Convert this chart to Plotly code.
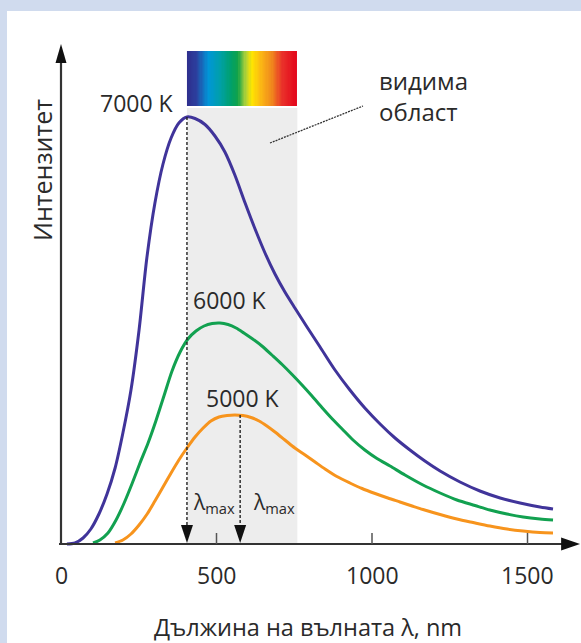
import plotly.graph_objects as go

# ---------------- data ----------------
wl_7000 = [19, 45, 71, 96, 122, 148, 174, 199, 225, 251, 276, 302, 328, 354, 379, 405,
           431, 463, 495, 527, 559, 592, 624, 656, 688, 720, 752, 791, 833, 881, 929,
           977, 1026, 1074, 1122, 1170, 1219, 1283, 1347, 1412, 1476, 1540, 1582]
int_7000 = [0, 1, 6, 15, 30, 50, 76, 111, 154, 214, 286, 341, 380, 406, 421, 427,
            425.5, 419.5, 408, 392, 369, 341, 315, 291, 270, 252, 236, 217, 197, 174, 154,
            136, 120, 106, 94, 83, 73, 62, 53, 46, 41, 37, 35]

wl_6000 = [103, 125, 151, 177, 203, 228, 254, 280, 305, 331, 357, 383, 408, 434, 460,
           486, 511, 537, 563, 588, 614, 646, 678, 711, 743, 775, 807, 839, 871, 904,
           939, 977, 1016, 1058, 1106, 1164, 1219, 1273, 1331, 1379, 1434, 1486, 1540, 1582]
int_6000 = [1, 4, 11, 24, 41, 60, 81, 101, 123, 148, 173, 192, 205, 213, 218,
            220.5, 221, 219.5, 216, 211, 205.5, 198, 189, 179.5, 169.5, 159, 148, 136.5, 125.5, 115,
            104, 94, 85.5, 78, 69, 59, 51, 44, 38.5, 34, 30, 27, 25, 24]

wl_5000 = [174, 199, 225, 251, 277, 302, 328, 354, 379, 405, 431, 457, 482, 508, 534,
           559, 585, 611, 637, 662, 688, 720, 752, 785, 817, 849, 887, 929, 968, 1010,
           1051, 1090, 1129, 1164, 1219, 1273, 1325, 1379, 1434, 1486, 1540, 1582]
int_5000 = [1, 4, 10, 19, 30, 43, 57, 71, 84, 96, 107, 116, 123, 127, 128.5,
            129, 128.5, 126.5, 123, 118, 112, 104, 96, 89, 82, 75, 67.5, 61, 55.5, 50.5,
            46, 42, 38, 34.5, 29.5, 25, 21.5, 18, 15, 13, 11.5, 11]

curve_labels = ["7000 K", "6000 K", "5000 K"]
curve_colors = ["#40349a", "#12a150", "#f7941d"]

lambda_max = [405, 576]          # nm, marked with dashed arrows
lambda_max_peak = [427, 129]     # intensity at those peaks

visible_range = [405, 760]       # nm, visible region
x_tick_vals = [0, 500, 1000, 1500]
x_tick_text = ["0", "500", "1000", "1500"]

x_title = "Дължина на вълната λ, nm"
y_title = "Интензитет"
visible_label = "видима<br>област"

# ---------------- layout geometry ----------------
PX = 3.2154                      # nm per pixel
XR = [-67.52, 1672.0]
YR = [-16, 514]
FONT = "Open Sans"
TXT = "#2a2a2a"

fig = go.Figure()

# spectrum strip (colour gradient across the visible range)
ncol = 90
step = (visible_range[1] - visible_range[0]) / ncol
spectrum = [
    [0.00, "#2e2f8e"], [0.08, "#2c3f9e"], [0.19, "#0096d8"], [0.30, "#00a0a8"],
    [0.40, "#00a06a"], [0.46, "#10a24a"], [0.53, "#a8cf3a"], [0.59, "#ffe600"],
    [0.68, "#fbb415"], [0.77, "#f08a1c"], [0.87, "#e9312a"], [1.00, "#e3061b"]]
fig.add_trace(go.Heatmap(
    z=[[i for i in range(ncol)]], x0=visible_range[0] + step / 2, dx=step,
    y0=465.5, dy=55, colorscale=spectrum, showscale=False, hoverinfo="skip"))

series = [(wl_7000, int_7000), (wl_6000, int_6000), (wl_5000, int_5000)]
for (wx, wy), name, col in zip(series, curve_labels, curve_colors):
    fig.add_trace(go.Scatter(x=wx, y=wy, mode="lines", name=name,
                             line=dict(color=col, width=3, shape="spline", smoothing=0.8),
                             hoverinfo="skip"))

shapes = []
# gray visible band
shapes.append(dict(type="rect", xref="x", yref="y", x0=visible_range[0], x1=visible_range[1],
                   y0=0, y1=436, fillcolor="#ededed", line=dict(width=0), layer="below"))
# dashed lambda-max lines + arrowheads
for lx, ly in zip(lambda_max, lambda_max_peak):
    shapes.append(dict(type="line", xref="x", yref="y", x0=lx, x1=lx, y0=ly, y1=18,
                       line=dict(color="#222", width=1.4, dash="3px,2px")))
    shapes.append(dict(type="path", xref="x", yref="y",
                       path=f"M {lx-6*PX},{19} L {lx+6*PX},{19} L {lx},{1} Z",
                       fillcolor="#111", line=dict(width=0)))
# axes
shapes.append(dict(type="line", xref="x", yref="y", x0=-2 * PX, x1=1611, y0=0, y1=0,
                   line=dict(color="#333", width=2.2)))
shapes.append(dict(type="path", xref="x", yref="y",
                   path="M 1608,-6.5 L 1669,0 L 1608,6.5 Z", fillcolor="#111", line=dict(width=0)))
shapes.append(dict(type="line", xref="x", yref="y", x0=0, x1=0, y0=0, y1=485,
                   line=dict(color="#333", width=2.2)))
shapes.append(dict(type="path", xref="x", yref="y",
                   path=f"M {-5.5*PX},481 L 0,500 L {5.5*PX},481 Z", fillcolor="#111", line=dict(width=0)))
# ticks
for tv in x_tick_vals[1:]:
    shapes.append(dict(type="line", xref="x", yref="y", x0=tv, x1=tv, y0=0, y1=11,
                       line=dict(color="#555", width=1.5)))
# leader line for visible region label
shapes.append(dict(type="line", xref="x", yref="y", x0=(270 - 61) * PX, y0=401,
                   x1=(363 - 61) * PX, y1=438, line=dict(color="#333", width=1.3, dash="2px,1px")))
# light-blue frame strips
shapes.append(dict(type="rect", xref="paper", yref="paper", x0=-0.2, x1=(7 - 40) / 541,
                   y0=-0.3, y1=1.2, fillcolor="#d0dbee", line=dict(width=0)))
shapes.append(dict(type="rect", xref="paper", yref="paper", x0=-0.2, x1=1.1,
                   y0=(560 - 11) / 530, y1=1.2, fillcolor="#d0dbee", line=dict(width=0)))

ann = []
label_pos = [(244, 441), (543, 244), (585, 146)]
for (ax_, ay_), t in zip(label_pos, curve_labels):
    ann.append(dict(x=ax_, y=ay_, xref="x", yref="y", text=t, showarrow=False,
                    xanchor="center", yanchor="middle",
                    font=dict(family=FONT, size=23, color=TXT)))
ann.append(dict(x=1016, y=448, xref="x", yref="y", text=visible_label, showarrow=False,
                xanchor="left", yanchor="middle", align="left",
                font=dict(family=FONT, size=24, color=TXT)))
for lx, off in zip(lambda_max, [4 * PX, 11 * PX]):
    ann.append(dict(x=lx + off, y=41, xref="x", yref="y", xanchor="left", yanchor="middle",
                    text="λ<sub>max</sub>", showarrow=False,
                    font=dict(family=FONT, size=21, color=TXT)))
for tv, tt in zip(x_tick_vals, x_tick_text):
    ann.append(dict(x=tv, y=(560 - 575) / 530, xref="x", yref="paper", text=tt, showarrow=False,
                    xanchor="center", yanchor="middle",
                    font=dict(family=FONT, size=23, color=TXT)))
ann.append(dict(x=(308 - 61) * PX, y=(560 - 627) / 530, xref="x", yref="paper", text=x_title,
                xanchor="center", yanchor="middle",
                showarrow=False, font=dict(family=FONT, size=23.5, color=TXT)))
ann.append(dict(x=(42 - 40) / 541, y=374, xref="paper", yref="y", text=y_title, textangle=-90,
                xanchor="center", yanchor="middle",
                showarrow=False, font=dict(family=FONT, size=25, color=TXT)))

fig.update_layout(
    width=581, height=643,
    margin=dict(l=40, r=0, t=30, b=83),
    paper_bgcolor="white", plot_bgcolor="rgba(0,0,0,0)",
    showlegend=False,
    xaxis=dict(range=XR, visible=False, fixedrange=True),
    yaxis=dict(range=YR, visible=False, fixedrange=True),
    shapes=shapes, annotations=ann,
)

fig.write_html("out.html", config={"displayModeBar": False},
               post_script="document.body.style.margin='0px';")
